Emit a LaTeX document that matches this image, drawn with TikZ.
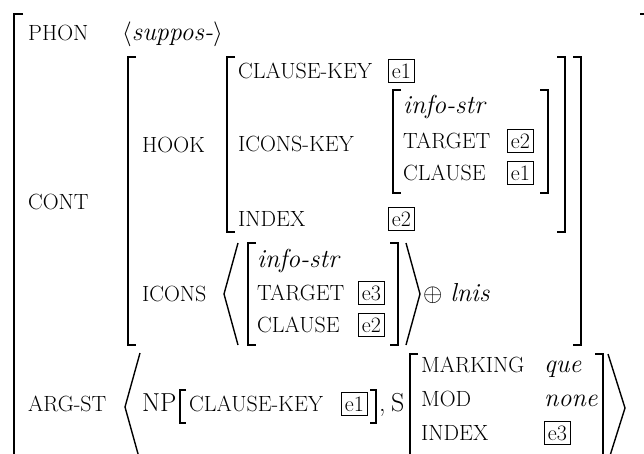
\documentclass[tikz,border=0pt]{standalone}
\usetikzlibrary{positioning}

\begin{document}
\begin{tikzpicture}[
		x=1pt, y=-1pt,
		every node/.style={inner sep=0pt, anchor=base west, font=\fontsize{26}{30}\selectfont},
		attr/.style={font=\fontsize{22}{26}\selectfont},
		typ/.style={font=\fontsize{26}{30}\selectfont\itshape},
		tag/.style={draw, line width=0.7pt, inner xsep=3.5pt, inner ysep=4pt, font=\fontsize{22}{26}\selectfont},
		brack/.style={line width=2.3pt},
		smallbrack/.style={line width=1.3pt},
		angl/.style={line width=1.4pt}
		]
		\clip (0,0) rectangle (644,453);

		\draw[brack] (23,14) -| (14,470) -- (23,470);
		\draw[brack] (640,14) -| (648,470) -- (640,470);

		\node[attr] (phon) at (28,40) {PHON};
		\node (phonval) at (122,40) {$\langle$\textit{suppos-}$\rangle$};

		\node[attr] (cont) at (28,209) {CONT};
		\draw[brack] (136,57) -| (128,345) -- (136,345);
		\draw[brack] (573,57) -| (581,345) -- (573,345);

		\node[attr] (hook) at (142,152) {HOOK};
		\draw[brack] (235,57) -| (227,232) -- (235,232);
		\draw[brack] (557,57) -| (565,232) -- (557,232);
		\node[attr] (ckey) at (238,78) {CLAUSE-KEY};
		\node[tag] (ckeyval) at (388,78) {e1};
		\node[attr] (ikey) at (238,151) {ICONS-KEY};
		\draw[brack] (401,90) -| (393,193) -- (401,193);
		\draw[brack] (540,90) -| (548,193) -- (540,193);
		\node[typ] (istr) at (403,113) {info-str};
		\node[attr] (tgt) at (403,148) {TARGET};
		\node[tag] (tgtval) at (507,148) {e2};
		\node[attr] (cl) at (403,180) {CLAUSE};
		\node[tag] (clval) at (507,180) {e1};
		\node[attr] (idx) at (238,226) {INDEX};
		\node[tag] (idxval) at (388,226) {e2};

		\node[attr] (icons) at (142,301) {ICONS};
		\draw[angl] (238,243) -- (224,294) -- (238,345);
		\draw[brack] (256,243) -| (248,345) -- (256,345);
		\draw[brack] (390,243) -| (398,345) -- (390,345);
		\draw[angl] (406,243) -- (420,294) -- (406,345);
		\node[typ] (istrb) at (257,267) {info-str};
		\node[attr] (tgtb) at (257,300) {TARGET};
		\node[tag] (tgtbval) at (358,300) {e3};
		\node[attr] (clb) at (257,332) {CLAUSE};
		\node[tag] (clbval) at (358,332) {e2};
		\node (plus) at (423,301) {$\oplus$ \textit{lnis}};

		\node[attr] (argst) at (28,411) {ARG-ST};
		\draw[angl] (140,353) -- (125,407) -- (140,461);
		\node (np) at (142,411) {NP};
		\draw[smallbrack] (186,390) -| (180,423) -- (186,423);
		\node[attr] (ckeyb) at (189,411) {CLAUSE-KEY};
		\node[tag] (ckeybval) at (341,411) {e1};
		\draw[smallbrack] (370,390) -| (376,423) -- (370,423);
		\node (comma) at (379,411) {,};
		\node (s) at (391,411) {S};
		\draw[brack] (418,354) -| (410,470) -- (418,470);
		\draw[brack] (595,354) -| (603,470) -- (595,470);
		\draw[angl] (608,354) -- (625,408) -- (608,462);
		\node[attr] (mark) at (421,372) {MARKING};
		\node[typ] (que) at (544,372) {que};
		\node[attr] (mod) at (421,406) {MOD};
		\node[typ] (none) at (544,406) {none};
		\node[attr] (idxb) at (421,440) {INDEX};
		\node[tag] (idxbval) at (544,440) {e3};
	\end{tikzpicture}
\end{document}
